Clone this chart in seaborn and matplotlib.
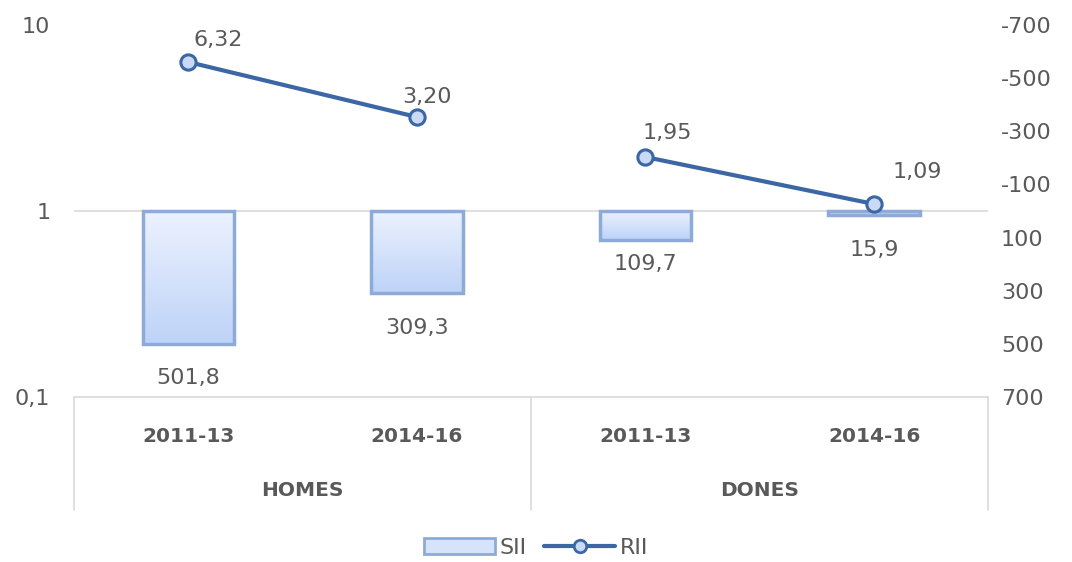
import numpy as np
import pandas as pd
import matplotlib
matplotlib.use("Agg")
import matplotlib.pyplot as plt
from matplotlib.lines import Line2D
from matplotlib.patches import Patch
import seaborn as sns

# data
groups = ["HOMES", "HOMES", "DONES", "DONES"]
periods = ["2011-13", "2014-16", "2011-13", "2014-16"]
sii = [501.8, 309.3, 109.7, 15.9]
rii = [6.32, 3.20, 1.95, 1.09]
sii_labels = ["501,8", "309,3", "109,7", "15,9"]
rii_labels = ["6,32", "3,20", "1,95", "1,09"]

df = pd.DataFrame({"group": groups, "period": periods, "SII": sii, "RII": rii})
df["cat"] = df["group"] + " " + df["period"]

sns.set_theme(style="white")
plt.rcParams["font.family"] = ["DejaVu Sans"]
grey = "#595959"
line_col = "#3b67a5"
edge_col = "#8eaad6"
fs = 16

fig = plt.figure(figsize=(10.72, 5.62), dpi=100)
ax_bar = fig.add_axes([0.069, 0.2936, 0.853, 0.662])
ax_line = ax_bar.twinx()

# bars on the inverted right-hand scale
sns.barplot(data=df, x="cat", y="SII", ax=ax_bar, width=0.4, color="#d6e3fb",
            edgecolor=edge_col, linewidth=2.5, zorder=2)

# gradient fill clipped to each bar
grad = np.linspace(0, 1, 100).reshape(-1, 1)
cmap = matplotlib.colors.LinearSegmentedColormap.from_list("bar", ["#ecf2fe", "#bed3f8"])
for p in ax_bar.patches:
    x0, w, h = p.get_x(), p.get_width(), p.get_height()
    im = ax_bar.imshow(grad, cmap=cmap, aspect="auto", origin="upper",
                       extent=(x0, x0 + w, h, 0), zorder=1.5)
    im.set_clip_path(p)
    p.set_facecolor("none")
ax_bar.set_ylim(700, -700)
ax_bar.set_xlim(-0.5, 3.5)

ax_bar.set_yticks([-700, -500, -300, -100, 100, 300, 500, 700])
ax_bar.set_yticklabels(["-700", "-500", "-300", "-100", "100", "300", "500", "700"])
ax_bar.tick_params(axis="y", length=0, labelsize=fs, labelcolor=grey, pad=9)
ax_bar.set_xticks([])
ax_bar.set_xlabel("")
ax_bar.set_ylabel("")
for s in ax_bar.spines.values():
    s.set_visible(False)
ax_bar.axhline(0, color="#d9d9d9", lw=1.2, zorder=0)

sii_off = [-24.5, -25, -17, -25]
for i, (v, lab) in enumerate(zip(sii, sii_labels)):
    ax_bar.annotate(lab, (i, v), xytext=(0, sii_off[i]), textcoords="offset points",
                    ha="center", va="center", fontsize=fs, color=grey)

# line on the log left-hand scale, one segment per group
sns.lineplot(data=df, x="cat", y="RII", ax=ax_line, units="group", estimator=None,
             sort=False, color=line_col, lw=3, marker="o", markersize=11,
             markerfacecolor="#c9d9f6", markeredgecolor=line_col,
             markeredgewidth=2.2, zorder=5)
ax_line.set_yscale("log")
ax_line.set_ylim(0.1, 10)
ax_line.set_xlim(-0.5, 3.5)
ax_line.yaxis.tick_left()
ax_line.yaxis.set_label_position("left")
ax_line.set_yticks([0.1, 1, 10])
ax_line.set_yticklabels(["0,1", "1", "10"])
ax_line.minorticks_off()
ax_line.tick_params(axis="y", which="both", length=0, labelsize=fs, labelcolor=grey, pad=17)
ax_line.set_xticks([])
ax_line.set_xlabel("")
ax_line.set_ylabel("")
for s in ax_line.spines.values():
    s.set_visible(False)
ax_bar.yaxis.tick_right()

rii_off = [(21.6, 15.8), (7.2, 14.4), (15.8, 17.3), (31, 23)]
for i, (v, lab) in enumerate(zip(rii, rii_labels)):
    ax_line.annotate(lab, (i, v), xytext=rii_off[i], textcoords="offset points",
                     ha="center", va="center", fontsize=fs, color=grey)

# category axis box
trans = ax_bar.get_xaxis_transform()
ax_bar.plot([-0.5, 3.5], [0, 0], transform=trans, color="#d9d9d9", lw=1.2, clip_on=False)
for xv in [-0.5, 1.5, 3.5]:
    ax_bar.plot([xv, xv], [0, -0.304], transform=trans, color="#d9d9d9", lw=1.2, clip_on=False)
for i, per in enumerate(periods):
    ax_bar.text(i, -0.1075, per, transform=trans, ha="center", va="center",
                fontsize=14.5, fontweight="bold", color=grey)
for g, xc in zip(["HOMES", "DONES"], [0.5, 2.5]):
    ax_bar.text(xc, -0.25, g, transform=trans, ha="center", va="center",
                fontsize=14.5, fontweight="bold", color=grey)

handles = [Patch(facecolor="#d6e3fb", edgecolor=edge_col, linewidth=2),
           Line2D([0], [0], color=line_col, lw=3, marker="o", markersize=9,
                  markerfacecolor="#c9d9f6", markeredgecolor=line_col, markeredgewidth=2)]
leg = fig.legend(handles, ["SII", "RII"], loc="center", bbox_to_anchor=(0.5, 0.025),
                 ncol=2, frameon=False, fontsize=fs, handlelength=3.2,
                 handletextpad=0.2, columnspacing=0.8)
for t in leg.get_texts():
    t.set_color(grey)

fig.savefig("out.png", dpi=100, facecolor="white")
